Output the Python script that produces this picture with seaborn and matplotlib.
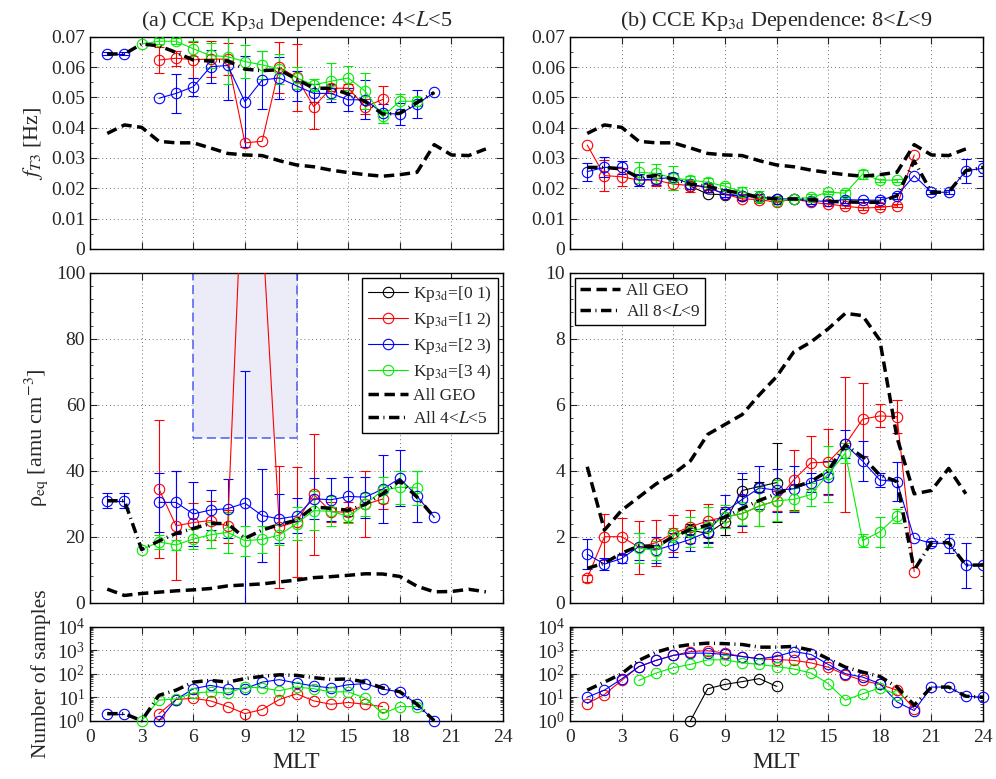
import numpy as np
import pandas as pd
import matplotlib
matplotlib.use('Agg')
import matplotlib.pyplot as plt
import seaborn as sns
from matplotlib.lines import Line2D
from matplotlib.patches import Rectangle
from matplotlib.ticker import MultipleLocator, LogLocator, NullFormatter, FuncFormatter

N = np.nan
mlt = np.arange(1, 25)

# ---- shared "All GEO" curves ----
geo_f = [0.0381, 0.0409, 0.0401, 0.0355, 0.0350, 0.0350, 0.0333, 0.0315, 0.0310, 0.0308, 0.0291, 0.0277,
         0.0271, 0.0260, 0.0252, 0.0245, 0.0240, 0.0245, 0.0253, 0.0344, 0.0310, 0.0308, 0.0330, N]
geo_rho = [4.12, 2.2, 2.8, 3.2, 3.6, 3.9, 4.3, 5.1, 5.4, 5.7, 6.3, 6.85,
           7.6, 7.9, 8.3, 8.77, 8.7, 7.96, 5.0, 3.3, 3.4, 4.07, 3.3, N]

# ---- (a) 4<L<5 ----
blue_f_a = [0.0643, 0.0643, N, 0.0497, 0.0513, 0.0535, 0.0601, 0.0605, 0.0485, 0.0557, 0.0564, 0.0538,
            0.0513, 0.0513, 0.0492, 0.0492, 0.0447, 0.0445, 0.0478, 0.0516, N, N, N, N]
blue_f_a_err = [0.0005, 0.0005, N, N, 0.0065, 0.003, 0.0055, 0.0115, 0.015, 0.0095, 0.007, 0.005,
                0.003, 0.003, 0.0038, 0.0065, 0.0032, 0.0035, 0.0045, N, N, N, N, N]
red_f_a = [N, N, N, 0.0623, 0.0629, 0.0624, 0.0626, 0.0626, 0.0350, 0.0355, 0.0599, 0.0566,
           0.0469, 0.0530, 0.0530, 0.0469, 0.0493, N, N, N, N, N, N, N]
red_f_a_err = [N, N, N, 0.0042, 0.0025, 0.006, 0.006, 0.0052, N, N, 0.0085, 0.011,
               0.0075, 0.001, 0.0015, 0.0025, 0.0045, N, N, N, N, N, N, N]
green_f_a = [N, N, 0.0676, 0.0685, 0.0685, 0.0660, 0.0638, 0.0634, 0.0618, 0.0607, 0.0594, 0.0564,
             0.0541, 0.0553, 0.0564, 0.0520, 0.0437, 0.0487, 0.0487, N, N, N, N, N]
green_f_a_err = [N, N, N, 0.001, 0.001, 0.0025, 0.004, 0.009, 0.0055, 0.0045, 0.005, 0.0035,
                 0.002, 0.006, 0.004, 0.006, 0.002, 0.0025, 0.0015, N, N, N, N, N]
all_f_a = [0.0643, 0.0643, 0.0676, 0.0670, 0.0648, 0.0623, 0.0620, 0.0620, 0.0593, 0.0588, 0.0591, 0.0560,
           0.0530, 0.0530, 0.0511, 0.0486, 0.0445, 0.0447, 0.0483, 0.0516, N, N, N, N]

blue_rho_a = [30.9, 30.9, N, 30.4, 30.4, 26.9, 28.1, 28.5, 30.2, 26.4, 25.4, 26.3,
              31.5, 31.2, 32.2, 32.0, 34.4, 37.7, 32.3, 25.9, N, N, N, N]
blue_rho_a_err = [2.3, 2.3, N, 9, 9.6, 9.8, 6, 9, 40, 14.2, 7.4, 5.3,
                  6.2, 6.5, 6, 6.2, 10.3, 8.5, 7.7, N, N, N, N, N]
red_rho_a = [N, N, N, 34.5, 23.3, 24.3, 24.9, 23.2, 148, 115, 23.0, 24.5,
             32.8, 27.6, 27.4, 29.8, 31.4, N, N, N, N, N, N, N]
red_rho_a_err = [N, N, N, 21, 16.5, 6, 6, 5, N, N, 18.5, 16.7,
                 18.3, 3, 3, 10, 3, N, N, N, N, N, N, N]
green_rho_a = [N, N, 16.1, 18.4, 17.5, 19.3, 20.6, 21.3, 18.8, 19.2, 20.5, 24.0,
               27.9, 27.7, 26.2, 29.8, 34.1, 35.0, 34.8, N, N, N, N, N]
green_rho_a_err = [N, N, N, 2, 1.5, 3, 4, 6.3, 4.5, 4, 3, 5,
                   6, 4.5, 2, 3.5, 4, 5, 5.2, N, N, N, N, N]
all_rho_a = [30.9, 30.9, 16.1, 18.7, 21.0, 22.5, 24.0, 24.0, 19.5, 22.0, 23.7, 25.0,
             29.0, 28.6, 28.0, 29.8, 33.0, 37.0, 32.0, 25.9, N, N, N, N]

blue_n_a = [2, 2, N, 1, 8, 23, 32, 23, 23, 44, 56, 40, 30, 25, 34, 38, 22, 17, 5, 1, N, N, N, N]
red_n_a = [N, N, N, 2, 8, 9, 7, 4, 2, 3, 8, 14, 7, 5, 6, 5, 4, N, N, N, N, N, N, N]
green_n_a = [N, N, 1, 7.5, 8.5, 15, 17, 15, 27, 25, 19, 27, 23, 17, 17, 9, 2, 4, 4, N, N, N, N, N]
all_n_a = [2, 2, 1, 12, 20, 44, 52, 44, 62, 77, 90, 85, 68, 57, 60, 44, 25, 17, 5, 1, N, N, N, N]

# ---- (b) 8<L<9 ----
black_f_b = [N, N, N, N, N, N, 0.0207, 0.0181, 0.0179, 0.0174, 0.0170, 0.0165,
             N, N, N, N, N, N, N, N, N, N, N, N]
blue_f_b = [0.0255, 0.0269, 0.0269, 0.0227, 0.0231, 0.0236, 0.0214, 0.0203, 0.0181, 0.0176, 0.0170, 0.0165,
            0.0165, 0.0159, 0.0157, 0.0163, 0.0161, 0.0161, 0.0176, 0.0242, 0.0187, 0.0187, 0.0258, 0.0266]
blue_f_b_err = [0.003, 0.0033, 0.0022, 0.002, 0.002, 0.0015, 0.0015, 0.0015, 0.001, 0.0006, 0.001, 0.001,
                0.0005, 0.001, 0.0005, 0.001, 0.0005, 0.001, 0.001, N, 0.0006, 0.0006, 0.004, 0.0025]
red_f_b = [0.0343, 0.0242, 0.0238, 0.0227, 0.0227, 0.0214, 0.0209, 0.0203, 0.0181, 0.0165, 0.0163, 0.0154,
           0.0165, 0.0154, 0.0148, 0.0141, 0.0135, 0.0137, 0.0143, 0.0310, N, N, N, N]
red_f_b_err = [N, 0.005, 0.003, 0.002, 0.002, 0.002, 0.002, 0.001, 0.001, 0.0005, 0.0005, 0.0005,
               0.0005, 0.0005, 0.0005, 0.0005, 0.0005, 0.0005, 0.0005, N, N, N, N, N]
green_f_b = [N, N, N, 0.0253, 0.0249, 0.0234, 0.0227, 0.0220, 0.0207, 0.0189, 0.0170, 0.0159,
             0.0165, 0.0170, 0.0187, 0.0184, 0.0247, 0.0227, 0.0227, N, N, N, N, N]
green_f_b_err = [N, N, N, 0.0035, 0.003, 0.004, 0.0015, 0.0015, 0.001, 0.0015, 0.002, 0.0005,
                 0.0005, 0.001, 0.0005, 0.001, 0.0015, 0.0005, 0.0005, N, N, N, N, N]
all_f_b = [0.0269, 0.0269, 0.0264, 0.0236, 0.0242, 0.0231, 0.0214, 0.0207, 0.0192, 0.0184, 0.0170, 0.0165,
           0.0165, 0.0163, 0.0157, 0.0155, 0.0154, 0.0154, 0.0176, 0.0290, 0.0187, 0.0187, 0.0258, 0.0269]

black_rho_b = [N, N, N, N, N, N, 2.2, 2.1, 2.45, 3.4, 3.52, 3.64, N, N, N, N, N, N, N, N, N, N, N, N]
black_rho_b_err = [N, N, N, N, N, N, 0.2, 0.25, 0.4, 0.35, 0.15, 1.2, N, N, N, N, N, N, N, N, N, N, N, N]
blue_rho_b = [1.47, 1.17, 1.34, 1.70, 1.60, 1.75, 1.92, 2.15, 2.76, 3.13, 3.48, 3.41,
              3.45, 3.64, 3.80, 4.80, 4.29, 3.72, 3.67, 1.95, 1.80, 1.80, 1.14, 1.14]
blue_rho_b_err = [0.45, 0.17, 0.15, 0.4, 0.4, 0.35, 0.35, 0.35, 0.5, 0.8, 0.65, 0.65,
                  0.7, 0.3, 0.5, 0.42, 0.6, 0.2, 0.6, N, 0.08, 0.28, 0.68, N]
red_rho_b = [0.74, 2.0, 2.0, 1.68, 1.82, 2.1, 2.3, 2.48, 2.6, 2.7, 2.93, 3.09,
             3.72, 4.24, 4.26, 4.8, 5.56, 5.66, 5.64, 0.94, N, N, N, N]
red_rho_b_err = [0.1, 0.7, 0.56, 0.8, 0.7, 0.55, 0.5, 0.5, 0.3, 0.55, 0.6, 0.3,
                 0.9, 0.8, 1.0, 2.05, 1.1, 0.35, 0.5, N, N, N, N, N]
green_rho_b = [N, N, N, 1.65, 1.58, 2.05, 2.15, 2.3, 2.6, 2.7, 2.93, 3.09,
               3.13, 3.28, 3.9, 4.53, 1.88, 2.15, 2.63, N, N, N, N, N]
green_rho_b_err = [N, N, N, 0.45, 0.3, 0.2, 0.45, 0.6, 0.35, 0.35, 0.6, 0.62,
                   0.35, 0.35, 0.85, 0.3, 0.2, 0.45, 0.2, N, N, N, N, N]
all_rho_b = [1.04, 1.2, 1.5, 1.72, 1.7, 2.0, 2.22, 2.35, 2.6, 2.86, 3.1, 3.3,
             3.5, 3.67, 4.0, 4.78, 4.42, 3.87, 3.67, 0.99, 1.82, 1.82, 1.14, 1.14]

black_n_b = [N, N, N, N, N, N, 1, 23, 35, 46, 62, 29, N, N, N, N, N, N, N, N, N, N, N, N]
blue_n_b = [10, 20, 60, 200, 370, 600, 750, 750, 660, 540, 430, 540,
            880, 660, 250, 100, 72, 38, 6.3, 2.7, 27, 27, 11, 10]
red_n_b = [5.4, 13, 52, 200, 370, 600, 880, 950, 750, 540, 430, 400,
           370, 290, 190, 90, 52, 35, 20, 3.3, N, N, N, N]
green_n_b = [N, N, N, 52, 107, 180, 250, 390, 390, 290, 250, 200,
             160, 107, 38, 7.5, 14, 25, 13, N, N, N, N, N]
all_n_b = [20, 44, 100, 370, 820, 1350, 1750, 2000, 1900, 1750, 1350, 1350,
           1450, 1000, 430, 190, 117, 77, 27, 4.6, 27, 27, 11, 10]

kp_labels = ['Kp$_{\\rm 3d}$=[0 1)', 'Kp$_{\\rm 3d}$=[1 2)', 'Kp$_{\\rm 3d}$=[2 3)', 'Kp$_{\\rm 3d}$=[3 4)']
kp_colors = ['black', 'red', 'blue', '#00ee00']

DASH = (0, (3.0, 1.6))
DASHDOT = (0, (3.0, 1.3, 0.3, 1.3))

sns.set_style('ticks')
plt.rcParams['font.family'] = ['Liberation Serif', 'DejaVu Serif']
plt.rcParams['mathtext.fontset'] = 'stix'
plt.rcParams['font.size'] = 13.5


def draw_series(ax, y, color, err=None, marker=True, ls='-', lw=0.8, clip=True):
    df = pd.DataFrame({'MLT': mlt, 'val': np.array(y, dtype=float)})
    df['seg'] = df['val'].isna().cumsum()
    df = df.dropna(subset=['val'])
    if marker:
        kw = dict(marker='o', markersize=7.5, mfc='none', mec=color, mew=0.8)
    else:
        kw = dict(marker=None)
    sns.lineplot(data=df, x='MLT', y='val', units='seg', estimator=None, color=color,
                 lw=lw, ls=ls, ax=ax, legend=False, clip_on=clip, zorder=3, **kw)
    if err is not None:
        yv = np.array(y, dtype=float)
        ev = np.array(err, dtype=float)
        ok = np.isfinite(yv) & np.isfinite(ev)
        ax.errorbar(mlt[ok], yv[ok], yerr=ev[ok], fmt='none', ecolor=color,
                    elinewidth=0.8, capsize=3.5, capthick=0.8, zorder=2)


fig = plt.figure(figsize=(9.96, 7.79), dpi=100)
xl = [0.0904, 0.5723]
w = 0.4147
ax_top = [fig.add_axes([x, 0.6804, w, 0.2725]) for x in xl]
ax_mid = [fig.add_axes([x, 0.2263, w, 0.4236]) for x in xl]
ax_bot = [fig.add_axes([x, 0.0748, w, 0.1207]) for x in xl]

# (a) column
draw_series(ax_top[0], red_f_a, 'red', red_f_a_err)
draw_series(ax_top[0], blue_f_a, 'blue', blue_f_a_err)
draw_series(ax_top[0], green_f_a, kp_colors[3], green_f_a_err)
draw_series(ax_top[0], geo_f, 'black', marker=False, ls=DASH, lw=2.5)
draw_series(ax_top[0], all_f_a, 'black', marker=False, ls=DASHDOT, lw=2.5)

ax_mid[0].add_patch(Rectangle((6, 50), 6, 50, facecolor='#ececf9', edgecolor='#4d5cf0',
                              ls=(0, (6, 3)), lw=1.1, zorder=1))
draw_series(ax_mid[0], red_rho_a, 'red', red_rho_a_err)
draw_series(ax_mid[0], blue_rho_a, 'blue', blue_rho_a_err)
draw_series(ax_mid[0], green_rho_a, kp_colors[3], green_rho_a_err)
draw_series(ax_mid[0], geo_rho, 'black', marker=False, ls=DASH, lw=2.5)
draw_series(ax_mid[0], all_rho_a, 'black', marker=False, ls=DASHDOT, lw=2.5)

draw_series(ax_bot[0], red_n_a, 'red', clip=False)
draw_series(ax_bot[0], blue_n_a, 'blue', clip=False)
draw_series(ax_bot[0], green_n_a, kp_colors[3], clip=False)
draw_series(ax_bot[0], all_n_a, 'black', marker=False, ls=DASHDOT, lw=2.5, clip=False)

# (b) column
draw_series(ax_top[1], black_f_b, 'black')
draw_series(ax_top[1], red_f_b, 'red', red_f_b_err)
draw_series(ax_top[1], blue_f_b, 'blue', blue_f_b_err)
draw_series(ax_top[1], green_f_b, kp_colors[3], green_f_b_err)
draw_series(ax_top[1], geo_f, 'black', marker=False, ls=DASH, lw=2.5)
draw_series(ax_top[1], all_f_b, 'black', marker=False, ls=DASHDOT, lw=2.5)

draw_series(ax_mid[1], black_rho_b, 'black', black_rho_b_err)
draw_series(ax_mid[1], red_rho_b, 'red', red_rho_b_err)
draw_series(ax_mid[1], blue_rho_b, 'blue', blue_rho_b_err)
draw_series(ax_mid[1], green_rho_b, kp_colors[3], green_rho_b_err)
draw_series(ax_mid[1], geo_rho, 'black', marker=False, ls=DASH, lw=2.5)
draw_series(ax_mid[1], all_rho_b, 'black', marker=False, ls=DASHDOT, lw=2.5)

draw_series(ax_bot[1], black_n_b, 'black', clip=False)
draw_series(ax_bot[1], red_n_b, 'red', clip=False)
draw_series(ax_bot[1], blue_n_b, 'blue', clip=False)
draw_series(ax_bot[1], green_n_b, kp_colors[3], clip=False)
draw_series(ax_bot[1], all_n_b, 'black', marker=False, ls=DASHDOT, lw=2.5, clip=False)

# axes styling
for ax in ax_top + ax_mid + ax_bot:
    ax.set_xlim(0, 24)
    ax.xaxis.set_major_locator(MultipleLocator(3))
    ax.grid(True, which='major', color='0.45', ls=(0, (1, 3)), lw=0.7)
    ax.tick_params(which='both', direction='in', top=True, right=True, labelsize=14)
    ax.tick_params(which='major', length=5)
    ax.tick_params(which='minor', length=2.5)
    ax.tick_params(axis='x', pad=6)
    ax.set_xlabel('')
    ax.set_ylabel('')
    for s in ax.spines.values():
        s.set_linewidth(1.0)
        s.set_color('black')

f_fmt = FuncFormatter(lambda v, p: '0' if abs(v) < 1e-9 else f'{v:.2f}')
for ax in ax_top:
    ax.set_ylim(0, 0.07)
    ax.yaxis.set_major_locator(MultipleLocator(0.01))
    ax.yaxis.set_minor_locator(MultipleLocator(0.005))
    ax.yaxis.set_major_formatter(f_fmt)
    ax.tick_params(labelbottom=False)

ax_mid[0].set_ylim(0, 100)
ax_mid[0].yaxis.set_major_locator(MultipleLocator(20))
ax_mid[0].yaxis.set_minor_locator(MultipleLocator(4))
ax_mid[1].set_ylim(0, 10)
ax_mid[1].yaxis.set_major_locator(MultipleLocator(2))
ax_mid[1].yaxis.set_minor_locator(MultipleLocator(0.4))
for ax in ax_mid:
    ax.tick_params(labelbottom=False)

for ax in ax_bot:
    ax.set_yscale('log')
    ax.set_ylim(1, 1e4)
    ax.yaxis.set_major_locator(LogLocator(base=10, numticks=10))
    ax.yaxis.set_minor_locator(LogLocator(base=10, subs=np.arange(2, 10), numticks=10))
    ax.yaxis.set_minor_formatter(NullFormatter())
    ax.set_xlabel('MLT', fontsize=17, labelpad=4)

ax_top[0].set_title('(a) CCE Kp$_{\\rm 3d}$ Dependence: 4<$L$<5', fontsize=16, pad=8)
ax_top[1].set_title('(b) CCE Kp$_{\\rm 3d}$ Dependence: 8<$L$<9', fontsize=16, pad=8)
ax_top[0].set_ylabel('$f_{T3}$ [Hz]', fontsize=16)
ax_mid[0].set_ylabel('ρ$_{\\rm eq}$ [amu cm$^{-3}$]', fontsize=16)
ax_bot[0].set_ylabel('Number of samples', fontsize=15.5)
fig.align_ylabels([ax_top[0], ax_mid[0], ax_bot[0]])

# legends
handles = [Line2D([], [], color=c, lw=0.8, marker='o', ms=7.5, mfc='none', mec=c, mew=0.8) for c in kp_colors]
handles += [Line2D([], [], color='black', lw=2.5, ls=DASH), Line2D([], [], color='black', lw=2.5, ls=DASHDOT)]
labels = kp_labels + ['All GEO', 'All 4<$L$<5']
leg = ax_mid[0].legend(handles, labels, loc='upper right', fontsize=12.5, frameon=True, fancybox=False,
                       edgecolor='black', framealpha=1, handlelength=2.3, borderaxespad=0.3,
                       labelspacing=0.35, handletextpad=0.3, borderpad=0.35)
leg.get_frame().set_linewidth(1.0)

handles_b = [Line2D([], [], color='black', lw=2.5, ls=DASH), Line2D([], [], color='black', lw=2.5, ls=DASHDOT)]
leg_b = ax_mid[1].legend(handles_b, ['All GEO', 'All 8<$L$<9'], loc='upper left', fontsize=12.5, frameon=True,
                         fancybox=False, edgecolor='black', framealpha=1, handlelength=2.3,
                         borderaxespad=0.3, labelspacing=0.25, handletextpad=0.3, borderpad=0.3)
leg_b.get_frame().set_linewidth(1.0)

fig.savefig('out.png', dpi=100)
